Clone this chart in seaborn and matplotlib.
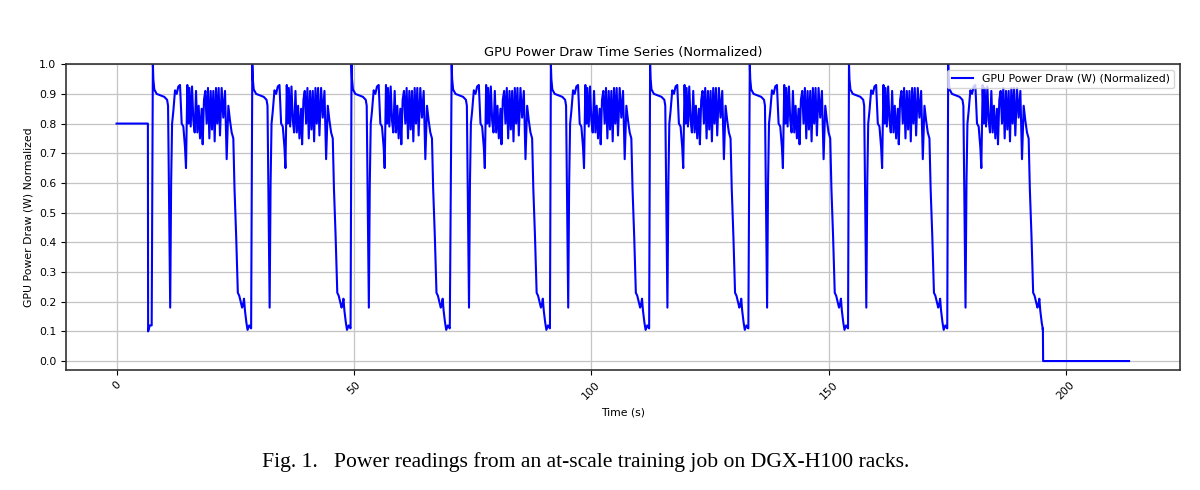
import matplotlib
matplotlib.use("Agg")
import matplotlib.pyplot as plt
import seaborn as sns
import pandas as pd
import numpy as np

# idle phase before the first step (time s, normalized power)
pre_t = [0.0, 6.6, 6.65, 7.0, 7.4]
pre_v = [0.80, 0.80, 0.10, 0.12, 0.12]

# one training step, time relative to its opening spike
cycle_t = [0.00, 0.10, 0.30, 0.80, 1.60, 2.40, 3.00, 3.20, 3.65, 3.85, 4.05, 4.30,
           4.67, 5.02, 5.37, 5.72, 6.07, 6.42, 6.77, 6.98, 7.26, 7.48, 7.69, 7.97,
           8.25, 8.53, 8.81, 9.09, 9.37, 9.65, 9.93, 10.28, 10.49, 10.77, 11.05,
           11.33, 11.61, 11.90, 12.18, 12.46, 12.74, 13.02, 13.30, 13.58, 13.86,
           14.14, 14.49, 14.84, 15.20, 15.55, 15.90, 16.25, 16.60, 16.95,
           17.20, 17.55, 17.90, 18.20, 18.50, 18.80, 19.00, 19.20, 19.40, 19.70,
           19.95, 20.30, 20.70]
cycle_v = [1.00, 0.95, 0.915, 0.90, 0.895, 0.89, 0.88, 0.86, 0.18, 0.60, 0.80, 0.84,
           0.912, 0.90, 0.925, 0.93, 0.80, 0.79, 0.72, 0.65, 0.93, 0.80, 0.92, 0.79,
           0.925, 0.81, 0.77, 0.91, 0.77, 0.86, 0.75, 0.85, 0.73, 0.88, 0.91,
           0.80, 0.92, 0.75, 0.91, 0.78, 0.91, 0.74, 0.92, 0.80, 0.92,
           0.76, 0.92, 0.82, 0.91, 0.68, 0.86, 0.81, 0.77, 0.75,
           0.58, 0.42, 0.23, 0.22, 0.20, 0.18, 0.19, 0.21, 0.17, 0.13,
           0.105, 0.12, 0.11]

# times of the opening spike of each step
cycle_starts = [7.65, 28.6, 49.5, 70.6, 91.5, 112.4, 133.4, 154.3, 175.2]

# end of the job: drop to zero and idle
end_t = [195.15, 195.2, 213.3]
end_v = [0.11, 0.0, 0.0]

times = list(pre_t)
values = list(pre_v)
for s in cycle_starts:
    for t, v in zip(cycle_t, cycle_v):
        if s + t < end_t[0]:
            times.append(s + t)
            values.append(v)
times += end_t
values += end_v

df = pd.DataFrame({"Time (s)": times, "power": values})

plt.rcParams["font.size"] = 7.8
fig = plt.figure(figsize=(12, 4.9), dpi=100)
ax = fig.add_axes([0.055, 0.245, 0.928, 0.624])

sns.lineplot(data=df, x="Time (s)", y="power", ax=ax, color="blue",
             linewidth=1.5, label="GPU Power Draw (W) (Normalized)",
             estimator=None, sort=False)

ax.set_ylim(-0.03, 1.0)
ax.set_yticks(np.arange(0, 1.01, 0.1))
ax.set_xlim(-10.65, 223.95)
ax.set_title("GPU Power Draw Time Series (Normalized)", fontsize=9.4)
ax.set_xlabel("Time (s)")
ax.set_ylabel("GPU Power Draw (W) Normalized")
ax.grid(True, color="#c4c4c4", linewidth=0.9)
ax.tick_params(axis="x", rotation=45)
ax.legend(loc="upper right", fontsize=7.8)
for sp in ax.spines.values():
    sp.set_color("#333333")
    sp.set_linewidth(1.2)

fig.text(0.488, 0.057, "Fig. 1.   Power readings from an at-scale training job on DGX-H100 racks.",
         ha="center", va="center", family="Liberation Serif", fontsize=15.6)

plt.savefig("out.png", dpi=100)
